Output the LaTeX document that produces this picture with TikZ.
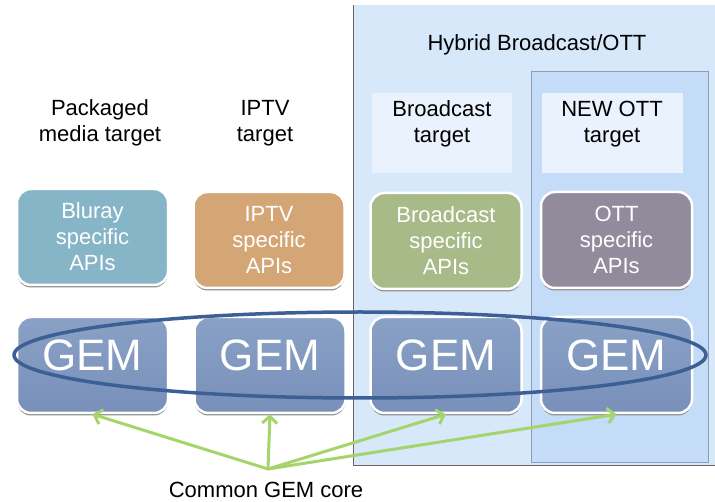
\documentclass[tikz,border=0pt]{standalone}
\usepackage{fontspec}
\setmainfont{Liberation Sans}
\usetikzlibrary{arrows.meta}
\definecolor{hybridbg}{HTML}{D7E8FA}
\definecolor{ottbg}{HTML}{C4DCF7}
\definecolor{ottedge}{HTML}{8C9DB5}
\definecolor{targetbg}{HTML}{EAF3FD}
\definecolor{blucol}{HTML}{86B5C7}
\definecolor{iptvcol}{HTML}{D4A675}
\definecolor{bcastcol}{HTML}{A7BA88}
\definecolor{ottcol}{HTML}{928B9C}
\definecolor{gemtop}{HTML}{8AA1C6}
\definecolor{gembot}{HTML}{7890BA}
\definecolor{ellcol}{HTML}{3C5F95}
\definecolor{arrcol}{HTML}{A5D46B}
\begin{document}
\begin{tikzpicture}[x=1pt,y=-1pt,
  lbl/.style={align=center,font=\fontsize{22}{26}\selectfont,text=black,inner sep=0pt},
  boxbase/.style={rounded corners=14pt,draw=white,line width=2.5pt,
    preaction={fill=black!45,transform canvas={yshift=-2.5pt}},
    minimum width=151pt,minimum height=96pt,inner sep=0pt},
  api/.style={boxbase,align=center,text=white,font=\fontsize{22}{26}\selectfont},
  gembox/.style={boxbase,top color=gemtop,bottom color=gembot},
  gemtxt/.style={text=white,font=\fontsize{44}{48}\selectfont,inner sep=0pt},
  garrow/.style={draw=arrcol,line width=3pt,-{Straight Barb[length=7pt,width=15pt,line width=3pt]}}
]
\useasboundingbox (0,0) rectangle (715,502);
% hybrid region
\fill[hybridbg] (353,5) rectangle (715,465);
\draw[gray!80!black,line width=1pt] (353,5) -- (353,465) -- (715,465);
\draw[ottedge,fill=ottbg,line width=0.8pt] (531,71) rectangle (708,462);
\fill[targetbg] (372,93) rectangle (512,173);
\fill[targetbg] (542,93) rectangle (683,173);
% labels
\node[lbl] (hyb) at (537,45) {Hybrid Broadcast/OTT};
\node[lbl] (pkt) at (100,123) {Packaged\\media target};
\node[lbl] (iptvt) at (265,123) {IPTV\\target};
\node[lbl] (bct) at (442,124) {Broadcast\\target};
\node[lbl] (ottt) at (612,124) {NEW OTT\\target};
% API boxes
\node[api,fill=blucol] (bluray) at (92.5,237) {Bluray\\specific\\APIs};
\node[api,fill=iptvcol] (iptv) at (269,240) {IPTV\\specific\\APIs};
\node[api,fill=bcastcol] (bcast) at (446,241) {Broadcast\\specific\\APIs};
\node[api,fill=ottcol] (ott) at (616.5,240) {OTT\\specific\\APIs};
% GEM boxes
\node[gembox] (gem1) at (92.5,365) {};
\node[gembox] (gem2) at (270,365) {};
\node[gembox] (gem3) at (446,365) {};
\node[gembox] (gem4) at (616.5,365) {};
\node[gemtxt] (g1) at ([yshift=10pt]gem1.center) {GEM};
\node[gemtxt] (g2) at ([yshift=10pt]gem2.center) {GEM};
\node[gemtxt] (g3) at ([yshift=10pt]gem3.center) {GEM};
\node[gemtxt] (g4) at ([yshift=10pt]gem4.center) {GEM};
% ellipse
\draw[ellcol,line width=3.5pt] (360,355) ellipse [x radius=346,y radius=43];
% arrows
\coordinate (core) at (268,469);
\draw[garrow] (core) -- (gem1.south);
\draw[garrow] (core) -- (gem2.south);
\draw[garrow] (core) -- (gem3.south);
\draw[garrow] (core) -- (gem4.south);
\node[lbl,font=\fontsize{22}{26}\selectfont] (cgc) at (266,490) {Common GEM core};
\end{tikzpicture}
\end{document}
